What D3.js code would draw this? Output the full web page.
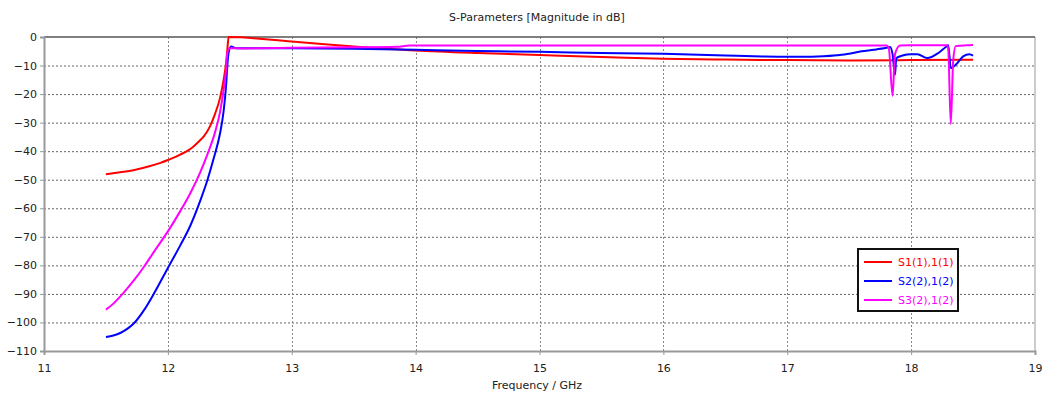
<!DOCTYPE html>
<html>
<head>
<meta charset="utf-8">
<script src="https://cdn.jsdelivr.net/npm/d3@7"></script>
<style>
  body { margin: 0; background: #fff; }
  text { font-family: "DejaVu Sans", sans-serif; fill: #222; }
</style>
</head>
<body>
<div id="chart"></div>
<script>
const title = 'S-Parameters [Magnitude in dB]';
const xLabel = 'Frequency / GHz';
const xTicks = [11, 12, 13, 14, 15, 16, 17, 18, 19];
const yTicks = [0, -10, -20, -30, -40, -50, -60, -70, -80, -90, -100, -110];
const seriesNames = ['S1(1),1(1)', 'S2(2),1(2)', 'S3(2),1(2)'];
const seriesColors = ['#ff0000', '#0000ff', '#ff00ff'];

const s11Freq = [11.5, 11.6, 11.73, 11.85, 11.94, 12.0, 12.1, 12.2, 12.25, 12.29, 12.34, 12.38, 12.42, 12.45, 12.47, 12.48, 12.49,
  13.0, 13.5, 14.0, 14.5, 15.0, 15.5, 16.0, 16.5, 17.0, 17.5, 18.0, 18.5];
const s11Db = [-48.1, -47.5, -46.6, -45.3, -44.1, -43.1, -41.2, -38.6, -36.6, -34.8, -31.3, -27.0, -21.5, -15.0, -9.1, -4.5, 0,
  -1.6, -3.3, -4.7, -5.6, -6.3, -7.0, -7.6, -7.9, -8.1, -8.2, -8.1, -8.0];

const s21Freq = [11.5, 11.56, 11.62, 11.68, 11.73, 11.81, 11.89, 12.0, 12.1, 12.18, 12.26, 12.32, 12.37, 12.42, 12.45, 12.47, 12.48, 12.49, 12.51, 12.55,
  13.0, 13.5, 14.0, 14.5, 15.0, 15.5, 16.0, 16.5, 16.8, 17.0, 17.2, 17.4, 17.5, 17.6, 17.7, 17.8, 17.83,
  17.85, 17.87, 17.88, 17.93, 18.0, 18.05, 18.13, 18.22, 18.28, 18.3, 18.32, 18.36, 18.42, 18.47, 18.5];
const s21Db = [-105.1, -104.6, -103.6, -102.0, -100.1, -95.5, -89.7, -80.9, -73.0, -66.2, -57.5, -50.0, -42.5, -34.0, -26.0, -17.0, -10.0, -5.6, -3.3, -3.9,
  -3.9, -4.1, -4.5, -4.9, -5.2, -5.6, -5.9, -6.5, -6.8, -6.9, -6.9, -6.4, -5.9, -5.0, -4.5, -3.8, -3.5,
  -6.0, -13.2, -7.4, -6.5, -6.0, -6.0, -7.4, -5.6, -3.5, -2.9, -10.9, -9.7, -6.8, -6.0, -6.5];

const s31Freq = [11.5, 11.56, 11.64, 11.73, 11.81, 11.89, 12.0, 12.1, 12.18, 12.26, 12.32, 12.38, 12.42, 12.45, 12.47, 12.48, 12.5, 12.6,
  13.0, 13.5, 13.85, 13.95, 15.0, 16.0, 17.0, 17.8, 17.82, 17.85, 17.87, 17.91, 18.0, 18.29, 18.3, 18.32, 18.34,
  18.36, 18.45, 18.5];
const s31Db = [-95.5, -93.4, -89.7, -85.0, -80.3, -75.1, -68.1, -61.0, -54.8, -47.5, -41.0, -33.5, -26.5, -18.5, -11.4, -5.6, -3.9, -4.0,
  -3.8, -3.6, -3.4, -3.0, -3.0, -3.0, -3.0, -3.0, -4.0, -20.6, -6.0, -3.0, -2.9, -2.9, -4.5, -30.5, -8.0,
  -3.2, -2.9, -2.8];

const series = [
  { name: seriesNames[0], color: seriesColors[0], freq: s11Freq, db: s11Db },
  { name: seriesNames[1], color: seriesColors[1], freq: s21Freq, db: s21Db },
  { name: seriesNames[2], color: seriesColors[2], freq: s31Freq, db: s31Db }
];

const width = 1043;
const height = 395;
const margin = { top: 37, right: 8, bottom: 44, left: 44 };

const x = d3.scaleLinear()
    .domain([11, 19])
    .range([margin.left, width - margin.right]);

const y = d3.scaleLinear()
    .domain([-110, 0])
    .range([height - margin.bottom, margin.top]);

const svg = d3.select('#chart').append('svg')
    .attr('width', width)
    .attr('height', height);

// grid
svg.append('g')
  .selectAll('line')
  .data(yTicks.slice(1, -1))
  .join('line')
    .attr('x1', x(11))
    .attr('x2', x(19))
    .attr('y1', d => y(d) + 0.5)
    .attr('y2', d => y(d) + 0.5)
    .attr('stroke', '#666')
    .attr('stroke-dasharray', '2,2');

svg.append('g')
  .selectAll('line')
  .data(xTicks.slice(1, -1))
  .join('line')
    .attr('x1', d => Math.round(x(d)) + 0.5)
    .attr('x2', d => Math.round(x(d)) + 0.5)
    .attr('y1', y(0))
    .attr('y2', y(-110))
    .attr('stroke', '#888')
    .attr('stroke-dasharray', '2,2');

// frame
svg.append('line')
    .attr('x1', x(19)).attr('x2', x(19))
    .attr('y1', y(0)).attr('y2', y(-110))
    .attr('stroke', '#bbb').attr('stroke-width', 1.5);
svg.append('line')
    .attr('x1', x(11)).attr('x2', x(19))
    .attr('y1', y(0)).attr('y2', y(0))
    .attr('stroke', '#555').attr('stroke-width', 1.5);

// axes
const xAxis = svg.append('g')
    .attr('transform', `translate(0,${y(-110)})`)
    .call(d3.axisBottom(x).tickValues(xTicks).tickSize(4).tickFormat(d3.format('d')));
const yAxis = svg.append('g')
    .attr('transform', `translate(${x(11)},0)`)
    .call(d3.axisLeft(y).tickValues(yTicks).tickSize(4).tickFormat(d3.format('d')));

[xAxis, yAxis].forEach(g => {
  g.select('.domain').attr('stroke', '#999').attr('stroke-width', 2);
  g.selectAll('.tick line').attr('stroke', '#999');
  g.selectAll('.tick text')
      .attr('font-size', 11)
      .attr('fill', '#222')
      .style('font-family', '"DejaVu Sans", sans-serif');
});
xAxis.selectAll('.tick text').attr('dy', '1.25em');
yAxis.selectAll('.tick text').attr('x', -7);

// title and label
svg.append('text')
    .attr('x', 537)
    .attr('y', 21)
    .attr('text-anchor', 'middle')
    .attr('font-size', 11)
    .text(title);

svg.append('text')
    .attr('x', 537)
    .attr('y', 389)
    .attr('text-anchor', 'middle')
    .attr('font-size', 11)
    .text(xLabel);

// curves
const line = d3.line()
    .x(d => x(d[0]))
    .y(d => y(d[1]))
    .curve(d3.curveMonotoneX);

svg.append('g')
  .selectAll('path')
  .data(series)
  .join('path')
    .attr('fill', 'none')
    .attr('stroke', d => d.color)
    .attr('stroke-width', 2)
    .attr('stroke-linejoin', 'round')
    .attr('d', d => line(d.freq.map((f, i) => [f, d.db[i]])));

// legend
const legend = svg.append('g')
    .attr('transform', 'translate(858,249)');

legend.append('rect')
    .attr('width', 100)
    .attr('height', 62)
    .attr('fill', '#fff')
    .attr('stroke', '#111')
    .attr('stroke-width', 2);

const item = legend.selectAll('.item')
  .data(series)
  .join('g')
    .attr('class', 'item')
    .attr('transform', (d, i) => `translate(0,${13 + i * 19})`);

item.append('line')
    .attr('x1', 6)
    .attr('x2', 34)
    .attr('stroke', d => d.color)
    .attr('stroke-width', 2);

item.append('text')
    .attr('x', 40)
    .attr('dy', '0.35em')
    .attr('font-size', 11)
    .style('fill', d => d.color)
    .text(d => d.name);
</script>
</body>
</html>
